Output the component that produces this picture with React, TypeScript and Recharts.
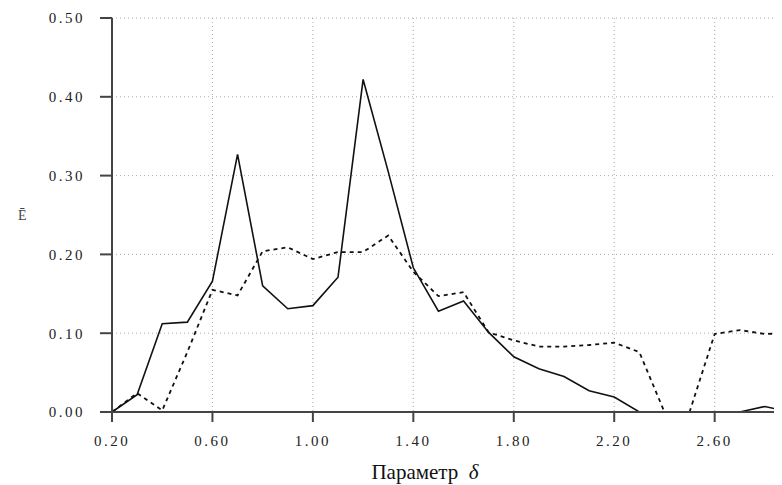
import { LineChart, Line, XAxis, YAxis, CartesianGrid } from "recharts";

// параметр δ, шаг 0.1
const deltas = [
  0.2, 0.3, 0.4, 0.5, 0.6, 0.7, 0.8, 0.9, 1.0, 1.1, 1.2, 1.3, 1.4, 1.5,
  1.6, 1.7, 1.8, 1.9, 2.0, 2.1, 2.2, 2.3, 2.4, 2.5, 2.6, 2.7, 2.8, 2.9,
];

const solidValues = [
  0, 0.022, 0.112, 0.114, 0.166, 0.327, 0.16, 0.131, 0.135, 0.171, 0.422,
  0.305, 0.183, 0.128, 0.141, 0.101, 0.07, 0.055, 0.045, 0.027, 0.019, 0,
  0, 0, 0, 0, 0.007, 0,
];

const dashedValues = [
  0, 0.024, 0.002, 0.076, 0.155, 0.148, 0.204, 0.209, 0.194, 0.203, 0.203,
  0.224, 0.178, 0.147, 0.152, 0.101, 0.091, 0.083, 0.083, 0.085, 0.088,
  0.076, 0, 0, 0.099, 0.104, 0.099, 0.1,
];

const xTicks = [0.2, 0.6, 1.0, 1.4, 1.8, 2.2, 2.6];
const yTicks = [0, 0.1, 0.2, 0.3, 0.4, 0.5];

const data = deltas.map((d, i) => ({
  d,
  solid: solidValues[i],
  dashed: dashedValues[i],
}));

const FONT = "'Liberation Serif', 'Times New Roman', serif";
const tickStyle = {
  fontSize: 15,
  fill: "#222",
  fontFamily: FONT,
  style: { fontFamily: FONT, letterSpacing: "2.5px" },
};

function XTitle(props: any) {
  const vb = props.viewBox || {};
  return (
    <text
      x={vb.x + vb.width / 2 - 26}
      y={vb.y + 67}
      textAnchor="middle"
      fontFamily={FONT}
      fontSize={21}
      fill="#111"
    >
      Параметр{"\u00a0\u00a0"}
      <tspan fontStyle="italic">δ</tspan>
    </text>
  );
}

function YTitle(props: any) {
  const vb = props.viewBox || {};
  return (
    <text x={10} y={vb.y + 202} fontFamily={FONT} fontSize={14} fill="#444">
      Ē
    </text>
  );
}

export default function App() {
  return (
    <div style={{ width: 774, height: 477, overflow: "hidden", fontFamily: FONT }}>
      <LineChart
        width={782}
        height={477}
        data={data}
        margin={{ top: 10, right: 0, bottom: 0, left: 0 }}
        style={{ fontFamily: FONT }}
      >
        <CartesianGrid stroke="#aaa" strokeDasharray="1 3" />
        <XAxis
          dataKey="d"
          type="number"
          domain={[0.2, 2.9]}
          ticks={xTicks}
          tickFormatter={(v) => Number(v).toFixed(2)}
          height={73}
          stroke="#444"
          strokeWidth={2}
          tickSize={10}
          tickMargin={13}
          tick={tickStyle}
          label={<XTitle />}
        />
        <YAxis
          type="number"
          domain={[0, 0.5]}
          ticks={yTicks}
          tickFormatter={(v) => Number(v).toFixed(2)}
          width={104}
          stroke="#444"
          strokeWidth={2}
          tickSize={12}
          tickMargin={15}
          tick={tickStyle}
          label={<YTitle />}
        />
        <Line
          type="linear"
          dataKey="dashed"
          stroke="#111"
          strokeWidth={1.8}
          strokeDasharray="4 4"
          dot={false}
          isAnimationActive={false}
        />
        <Line
          type="linear"
          dataKey="solid"
          stroke="#111"
          strokeWidth={1.6}
          dot={false}
          isAnimationActive={false}
        />
      </LineChart>
    </div>
  );
}
